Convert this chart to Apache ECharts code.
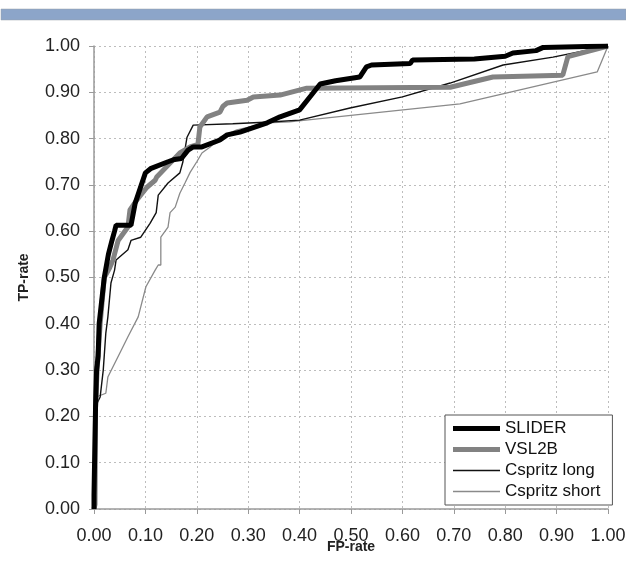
<!DOCTYPE html>
<html>
<head>
<meta charset="utf-8">
<script src="https://cdn.jsdelivr.net/npm/echarts@6/dist/echarts.min.js"></script>
<style>html,body{margin:0;padding:0;background:#fff}#c{width:626px;height:561px}</style>
</head>
<body>
<div id="c"></div>
<script>
var ticks = [0,0.1,0.2,0.3,0.4,0.5,0.6,0.7,0.8,0.9,1.0];

var sliderFP = [0,0,0.003,0.003,0.005,0.008,0.010,0.015,0.020,0.028,0.035,0.040,0.043,0.072,0.080,0.100,0.110,0.144,0.157,0.170,0.183,0.193,0.210,0.245,0.259,0.284,0.337,0.362,0.400,0.420,0.440,0.470,0.517,0.530,0.540,0.615,0.620,0.740,0.800,0.815,0.860,0.874,1.000];
var sliderTP = [0,0.03,0.03,0.22,0.30,0.33,0.40,0.45,0.50,0.55,0.58,0.60,0.613,0.613,0.66,0.726,0.735,0.750,0.755,0.757,0.775,0.782,0.782,0.797,0.808,0.814,0.834,0.847,0.862,0.890,0.918,0.925,0.933,0.955,0.959,0.962,0.970,0.972,0.978,0.985,0.990,0.997,1.0];

var vslFP = [0,0.002,0.003,0.006,0.012,0.020,0.030,0.037,0.047,0.066,0.070,0.083,0.103,0.119,0.122,0.148,0.167,0.187,0.198,0.202,0.206,0.220,0.245,0.251,0.259,0.298,0.310,0.362,0.414,0.550,0.693,0.776,0.912,0.922,1.0];
var vslTP = [0,0.01,0.22,0.30,0.40,0.50,0.52,0.538,0.58,0.609,0.646,0.667,0.695,0.71,0.717,0.747,0.769,0.782,0.786,0.786,0.825,0.847,0.857,0.87,0.877,0.883,0.89,0.894,0.909,0.910,0.911,0.933,0.937,0.977,1.0];

var cLongFP = [0,0.002,0.012,0.018,0.023,0.027,0.033,0.040,0.043,0.066,0.072,0.091,0.109,0.121,0.125,0.144,0.167,0.173,0.181,0.193,0.270,0.342,0.400,0.498,0.600,0.693,0.796,0.893,1.0];
var cLongTP = [0,0.22,0.242,0.30,0.38,0.415,0.488,0.516,0.538,0.56,0.58,0.587,0.617,0.64,0.678,0.704,0.726,0.75,0.803,0.829,0.832,0.836,0.84,0.866,0.89,0.92,0.959,0.976,1.0];

var cShortFP = [0,0.002,0.005,0.023,0.027,0.053,0.066,0.086,0.101,0.119,0.125,0.130,0.130,0.144,0.148,0.158,0.167,0.177,0.187,0.200,0.210,0.226,0.245,0.278,0.337,0.380,0.712,0.979,1.0];
var cShortTP = [0,0.02,0.242,0.25,0.285,0.343,0.372,0.415,0.48,0.516,0.527,0.527,0.587,0.609,0.64,0.652,0.682,0.704,0.727,0.75,0.769,0.782,0.803,0.819,0.834,0.836,0.875,0.944,1.0];

function zip(a, b) { return a.map(function (v, i) { return [v, b[i]]; }); }

var FONT = '"Liberation Sans", Arial, sans-serif';
var chart = echarts.init(document.getElementById('c'), null, {renderer: 'canvas'});

function axis(name, gap, rot, margin, moveOverlap) {
  return {
    type: 'value', min: 0, max: 1, interval: 0.1,
    name: name, nameLocation: 'middle', nameGap: gap, nameRotate: rot,
    nameMoveOverlap: moveOverlap,
    nameTextStyle: {fontFamily: FONT, fontSize: 14, fontWeight: 'bold', color: '#222'},
    axisLine: {show: true, onZero: false, lineStyle: {color: '#9a9a9a', width: 1.5}},
    axisTick: {show: true, inside: false, length: 5, lineStyle: {color: '#9a9a9a'}},
    axisLabel: {fontFamily: FONT, fontSize: 18, color: '#222', margin: margin,
      formatter: function (v) { return v.toFixed(2); }},
    splitLine: {show: true, lineStyle: {color: '#bdbdbd', type: [2, 3], width: 1}}
  };
}

var THICK = 'path://M0,0M47,14M0,4.5L47,4.5L47,9.5L0,9.5Z';
var THIN = 'path://M0,0M47,14M0,6.3L47,6.3L47,7.7L0,7.7Z';

var option = {
  animation: false,
  backgroundColor: '#fff',
  graphic: [
    {type: 'rect', shape: {x: 1, y: 9, width: 625, height: 11}, style: {fill: '#8ca5c9', stroke: '#9aa0a8', lineWidth: 0.5}}
  ],
  grid: {left: 94, right: 18, top: 46, bottom: 52, containLabel: false, outerBoundsMode: 'none'},
  xAxis: axis('FP-rate', 31, 0, 18, false),
  yAxis: axis('TP-rate', 63, 90, 14, true),
  legend: {
    orient: 'vertical', left: 445, top: 415,
    backgroundColor: '#fff', borderColor: '#555', borderWidth: 1,
    padding: [5, 12, 5, 8], itemGap: 4, itemWidth: 47, itemHeight: 14,
    symbolKeepAspect: true,
    textStyle: {fontFamily: FONT, fontSize: 17, color: '#111'},
    data: [
      {name: 'SLIDER', icon: THICK, itemStyle: {color: '#000', borderWidth: 0}},
      {name: 'VSL2B', icon: THICK, itemStyle: {color: '#828282', borderWidth: 0}},
      {name: 'Cspritz long', icon: THIN, itemStyle: {color: '#111', borderWidth: 0}},
      {name: 'Cspritz short', icon: THIN, itemStyle: {color: '#8a8a8a', borderWidth: 0}}
    ]
  },
  series: [
    {name: 'Cspritz short', type: 'line', symbol: 'none', data: zip(cShortFP, cShortTP), lineStyle: {color: '#8a8a8a', width: 1.3}, itemStyle: {color: '#8a8a8a'}, z: 2},
    {name: 'Cspritz long', type: 'line', symbol: 'none', data: zip(cLongFP, cLongTP), lineStyle: {color: '#111', width: 1.4}, itemStyle: {color: '#111'}, z: 3},
    {name: 'VSL2B', type: 'line', symbol: 'none', data: zip(vslFP, vslTP), lineStyle: {color: '#828282', width: 5}, itemStyle: {color: '#828282'}, z: 4},
    {name: 'SLIDER', type: 'line', symbol: 'none', data: zip(sliderFP, sliderTP), lineStyle: {color: '#000', width: 5}, itemStyle: {color: '#000'}, z: 5}
  ]
};
chart.setOption(option);
</script>
</body>
</html>
